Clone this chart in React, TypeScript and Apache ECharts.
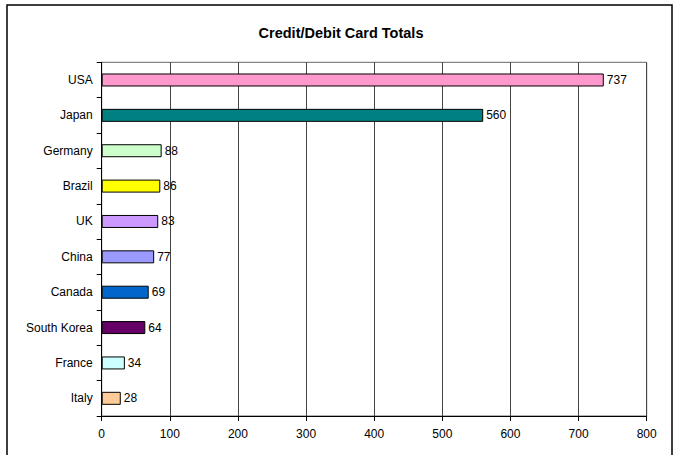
import React, { useEffect, useRef } from "react";
import * as echarts from "echarts";

const countries = ["USA", "Japan", "Germany", "Brazil", "UK", "China", "Canada", "South Korea", "France", "Italy"];
const totals = [737, 560, 88, 86, 83, 77, 69, 64, 34, 28];
const barColors = ["#FF99CC", "#008080", "#CCFFCC", "#FFFF00", "#CC99FF", "#9999FF", "#0066CC", "#660066", "#CCFFFF", "#FFCC99"];
const titleText = "Credit/Debit Card Totals";

export default function App() {
  const ref = useRef<HTMLDivElement>(null);
  useEffect(() => {
    if (!ref.current) return;
    const chart = echarts.init(ref.current, null, { renderer: "svg" });
    const font = "'Liberation Sans', Arial, sans-serif";
    chart.setOption({
      animation: false,
      backgroundColor: "#ffffff",
      title: {
        text: titleText,
        left: "center",
        top: 20,
        textStyle: { fontFamily: font, fontWeight: "bold", fontSize: 14.5, color: "#000" },
      },
      graphic: [
        {
          type: "rect",
          shape: { x: 7, y: 5, width: 665, height: 470 },
          style: { fill: "none", stroke: "#000", lineWidth: 1.5 },
          silent: true,
        },
      ],
      grid: {
        left: 101.7,
        right: 35.3,
        top: 62.3,
        bottom: 39,
        show: true,
        borderColor: "#666",
        borderWidth: 1,
        backgroundColor: "transparent",
      },
      xAxis: {
        type: "value",
        min: 0,
        max: 800,
        interval: 100,
        axisLine: { show: true, lineStyle: { color: "#000", width: 1 } },
        axisTick: { show: true, length: 5, lineStyle: { color: "#000" } },
        splitLine: { show: true, lineStyle: { color: "#444", width: 1 } },
        axisLabel: { fontFamily: font, fontSize: 12, color: "#000", margin: 12 },
      },
      yAxis: {
        type: "category",
        data: countries,
        inverse: true,
        axisLine: { show: true, lineStyle: { color: "#000", width: 1 } },
        axisTick: { show: true, length: 5, lineStyle: { color: "#000" } },
        axisLabel: { fontFamily: font, fontSize: 12, color: "#000", margin: 9 },
        splitLine: { show: false },
      },
      series: [
        {
          type: "bar",
          data: totals.map((v, i) => ({
            value: v,
            itemStyle: { color: barColors[i], borderColor: "#000", borderWidth: 1 },
          })),
          barWidth: 13,
          label: {
            show: true,
            position: "right",
            distance: 3,
            fontFamily: font,
            fontSize: 12,
            color: "#000",
          },
        },
      ],
    });
    return () => chart.dispose();
  }, []);
  return <div ref={ref} style={{ width: 682, height: 455, position: "absolute", left: 0, top: 0 }} />;
}
